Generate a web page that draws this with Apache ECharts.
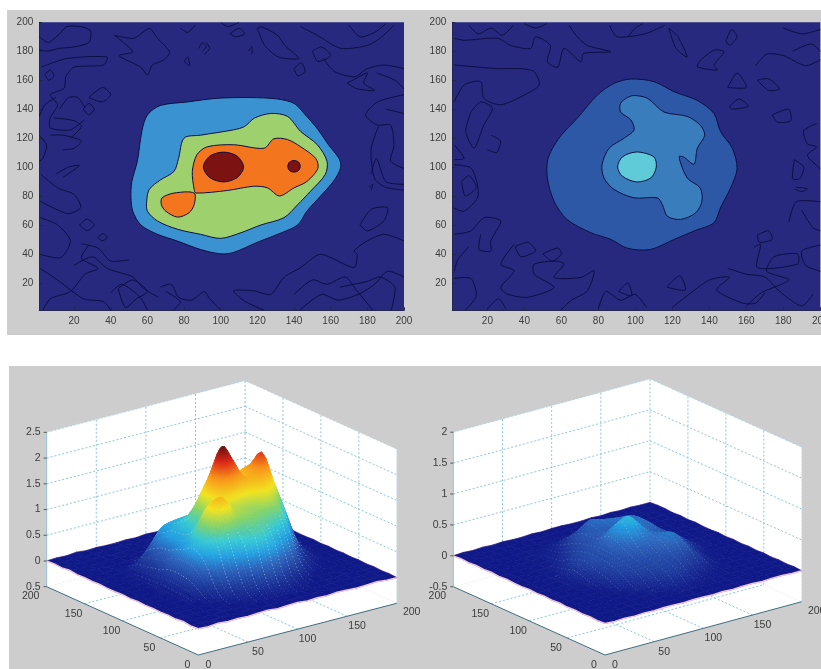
<!DOCTYPE html>
<html><head><meta charset="utf-8">
<style>html,body{margin:0;padding:0;background:#fff;overflow:hidden}#c{width:821px;height:669px;filter:blur(0.7px)}</style>
<script src="https://cdn.jsdelivr.net/npm/echarts@6/dist/echarts.min.js"></script>
</head><body><div id="c"></div>
<script>
// ---- contour plots: tick labels
const contourTicks = [20,40,60,80,100,120,140,160,180,200];
// ---- left contour levels [x,y]
const leftBlue = [[51,79],[51.5,90],[54.5,104],[57,125],[60,136],[67,142.5],[82,145],[98,147.5],[116,148],[131,147],[140,144],[145.5,137],[153,126],[159,115],[164.5,106],[165.5,100],[162,91],[154.5,80],[147,69.5],[142,60],[131,53.5],[120,48],[107,41],[100,40],[89,43],[76,49],[65.5,53.5],[56.4,60],[52,69.5]];
const leftGreen = [[59.6,76.4],[61,84.5],[67,91],[74.5,97],[77,106],[80,120],[89,122],[107,125.7],[113,128],[118.4,133.8],[127.3,137],[136.4,135],[143.6,124.6],[152.7,115.4],[158,104],[157,94.8],[149,83.3],[142,74],[134.5,65],[122,60],[111,54.6],[100,50.7],[89,53.5],[76.4,57],[65.5,62.7],[60,69.5]];
const leftOrangeMain = [[85.5,84.5],[84.5,97],[87,108.5],[92.7,114],[107,115.4],[123.6,113],[129,119.5],[136.4,119],[143.6,114],[151.8,106],[153,99],[147,90],[140,85.6],[132,80],[125.5,85.6],[118,86.7],[103.6,83.8],[86.4,82]];
const leftOrangeLobe = [[68,78.7],[74.5,82],[85.5,82],[85.5,74],[82.7,68.4],[76.4,65.4],[70,69.5],[67.6,74]];
const leftRedBig = [[101.5,110.3],[109,107.5],[112.5,100],[109,92.7],[101.5,89.7],[94,92.7],[90.5,100],[94,107.5]];
const leftRedSmall = [[140,104.5],[142.5,103.4],[143.4,100.5],[142.5,97.6],[140,96.5],[137.5,97.6],[136.6,100.5],[137.5,103.4]];
const leftNoise = [
 [[1,190],[6,186],[12,192],[16,197],[24,197],[29,194],[28,186],[20,183],[12,182],[5,180],[1,181]],
 [[42,191],[52,179.6],[44.5,177],[56.4,169],[60,163.6],[62.7,170.5],[69,174],[72,179.6],[65.5,189],[61,195.7],[52.7,189],[42,191]],
 [[2,169],[16,175],[38,176],[36,170.5],[20,169],[15.5,162.5],[14.5,154.4],[7,150],[11,143],[7,134],[7,127],[18,125.7],[25.5,132.6]],
 [[120,195.7],[124,184],[131.6,176],[142.5,175],[135,184],[131,191],[122,197],[120,195.7]],
 [[143.6,197],[152.7,191],[165.5,182],[180,184],[187,189],[194.5,198]],
 [[156,175],[162,166],[173,162.4],[180,168],[189,170.5],[200,168]],
 [[169,158],[172,160],[180,165],[178,158],[184,153],[174.5,154],[169,158]],
 [[200,150],[185.5,145],[179,136],[185.5,129],[192.7,129],[194.5,115],[192.7,104],[200,99]],
 [[176,60],[182,70.7],[191,72],[189,62.7],[180,55.8],[176,60]],
 [[200,49],[189,53.5],[180,49],[172.7,42],[174.5,39.7],[172.7,30.5],[154.5,39.7],[143.6,30.5],[134.5,23.7],[127.3,12],[118,14.5],[107,14.5],[112.7,7.6],[123.6,1]],
 [[143,1],[155,12],[164,8],[175,12],[184,19],[191,28],[200,24]],
 [[1.8,95],[11,85.6],[20,81],[23.6,72],[16.4,67.8],[1.5,76.4]],
 [[1.5,65],[11,60],[18,49],[12.7,37.4],[1.5,39.7]],
 [[1.5,30],[12,21],[25,9],[36,7],[40,1]],
 [[28,46],[24,37],[33,30],[26,26],[18,14],[7,9],[3,1]],
 [[44,16],[52,22],[60,14],[54,9],[48,3],[44,16]],
 [[70,14],[78,7],[74,1]],
 [[28,148],[35.5,155],[40,150],[35.5,145],[28,148]],
 [[25,140],[28,144],[31,140],[28,136],[25,140]],
 [[10,148],[4,143],[1,135]],
 [[7,122],[14,122],[24,118],[20,113],[14,112]],
 [[1,122],[5,115],[3,106],[1,104]],
 [[10,95],[17,100],[23,101],[14,93]],
 [[23,60],[27,64],[31,60],[27,56],[23,60]],
 [[33,51.6],[36,54],[38,51],[35,49],[33,51.6]],
 [[105,192],[110,196],[113,192],[108,190],[105,192]],
 [[88,182],[90,186],[92,183],[90,180]],
 [[140,168],[144,172],[146,166],[142,163],[140,168]],
 [[186,128],[182,112],[184,92],[190,86],[200,84]],
 [[181,86],[183,88],[182,84]],
 [[4,164],[7,167],[9,163],[6,160],[4,164]],
 [[78,196],[82,193],[86,198]],
 [[92,186],[94,182],[91,178]],
 [[80,173],[82,176],[83,170],[80,173]],
 [[115,180],[117,183],[117,178]],
 [[12,140],[17,148],[22,148],[26,141]],
 [[9,134],[20,132],[24,128],[18,120]],
 [[24,47],[33,44],[40,35],[50,36]],
 [[20,32],[30,38],[38,30],[52,24],[58,16],[66,10]],
 [[67,17],[73,19],[77,10],[84,8],[91,14],[94,9],[100,1]],
 [[40,13],[46,19],[56,10],[60,1]],
 [[165,17],[180,21],[187,24],[195,17],[193,1]],
 [[140,12],[150,22],[158,19],[168,24],[174,15],[183,1]],
 [[182,95],[185,106],[190,90],[200,88]],
 [[190,140],[200,137]],
 [[185,165],[195,160],[200,154]],
 [[170,198],[176,190],[184,193],[190,199]],
 [[150,180],[155,183],[160,177],[153,173],[150,180]],
 [[100,200],[104,197],[110,200]]
];
// ---- right contour levels [x,y]
const rightOuter = [[97.5,160.8],[110,159],[121,152],[133.5,146],[142.5,137],[146,124.6],[152.4,113],[155,99],[151.5,85.6],[146,71.8],[142.5,61.5],[131.7,55.8],[121,50],[108,43],[95.7,43.9],[86.7,50],[75.9,54.6],[63,63.8],[56,76.4],[52.4,92.5],[52.8,106],[58.7,120],[68.6,133.8],[79.5,149.8],[88.5,157.8]];
const rightMid = [[99.3,149.4],[106.5,147.5],[115.5,138],[128,135],[135,129],[137.5,122],[133.5,113],[131.7,102],[126,107],[123.6,107],[128,92.5],[135,85.6],[136,76.4],[132.6,68.4],[124.5,63.8],[117.3,66],[114.6,74],[111.9,78.7],[99.3,78.7],[88.5,84.5],[83,92.5],[82,101.7],[85.8,113],[94,120],[99.3,125.7],[97.5,132.6],[92,138],[92,144],[95.7,148]];
const rightCyan = [[100.7,110.4],[110,107],[111.3,100],[108.4,92.5],[100.7,89.7],[93,93.6],[90.4,100],[93,107]];
const rightNoise = [
 [[2,189],[7.4,187.6],[25.4,189],[32.6,184],[43.4,182],[46,190],[54,184],[52.4,172.7],[58,169],[61.4,182],[70.5,172.7],[72,178.5],[86.7,179.6],[74,184],[68.6,190],[64,198]],
 [[2,170.5],[25.4,168],[38,168],[45.2,166],[48,156.7],[40,149.8],[27.2,143],[18,147.5],[16.4,159],[7.4,156.7],[2,145]],
 [[11,138],[8.3,124.6],[12.8,113],[18,129],[22.7,140.6],[16.4,145],[11,138]],
 [[2,115.4],[7.4,106],[2,105]],
 [[2,101.6],[11,99.4],[14.6,88],[14.6,78.7],[7.4,69.5],[1.5,71.8]],
 [[2,53.5],[11,55.8],[18.2,65],[27.2,62.7],[21.8,49],[21.8,42],[15.5,43],[16.4,53.5]],
 [[34.4,46.6],[27.2,32.8],[34.4,28.3],[27.2,16.8],[30.8,12.2],[41.6,10],[56,16.8],[45.2,26],[45.2,32.8],[57.8,35],[61.4,32.8],[56,23.7],[70.5,23.7],[77.7,28.3],[74,14.5],[65,7.6],[59.6,1]],
 [[2,23],[11,23],[14,11],[8,1]],
 [[20,2],[26,9],[30,2]],
 [[164,44.3],[167.7,46.6],[166,30.5],[187.7,33],[187.7,40],[175,38],[171,28],[183,22],[168,13],[160,4]],
 [[200,46],[190,42],[192,32],[200,28]],
 [[135.3,174],[142.5,180.8],[148,179.6],[142.5,170.5],[144.3,167],[133.5,169.3],[135.3,174]],
 [[118,196],[122,182],[128,176],[123,190],[118,196]],
 [[86,198],[90,190],[105,192],[116,198]],
 [[149,187],[152,195],[155,190],[151,184],[149,187]],
 [[165,170],[171,178],[180,177],[192,170],[200,174]],
 [[150,155],[155,165],[160,155],[150,155]],
 [[151,142],[156,147],[161,142],[152,140],[151,142]],
 [[166,160],[172,161],[178,154],[172,153],[166,160]],
 [[174,136],[183,140],[184,132],[177,131],[174,136]],
 [[198,130],[191,125],[193,116],[198,114],[193,108],[200,99]],
 [[186,105],[191,100],[189,92],[185,92],[186,105]],
 [[186,85],[190,83],[193,85],[187,86]],
 [[183,62],[187,76],[200,76]],
 [[190,70],[196,58],[200,56]],
 [[166,53],[172,56],[174,50],[167,48],[166,53]],
 [[117,17],[124,25],[127,15],[117,17]],
 [[120,3],[130,13],[140,22],[151,24],[144,15],[158,6],[165,6],[170,13]],
 [[91,14],[96,20],[98,11],[91,14]],
 [[22,122],[27,118],[25,110],[20,112]],
 [[10,198],[15,192],[22,196],[28,191],[34,198]],
 [[40,199],[46,196],[52,199]],
 [[96,190],[100,196],[104,199]],
 [[50,40],[55,35],[60,40],[58,44],[50,40]],
 [[80,2],[84,14],[92,8],[100,12],[106,3]],
 [[35,45],[42,48],[46,42],[38,38],[35,45]],
 [[180,196],[190,192],[200,195]],
 [[150,30],[160,26],[170,24],[178,14],[190,4],[196,12]],
 [[185,180],[195,185],[200,180]],
 [[10,45],[4,36],[2,28]],
 [[6,90],[10,94],[14,86],[8,80],[6,90]]
];
// ---- surface heights: rows y=200..0 (step 10), columns x=0..200 (step 10)
const leftZ = [
[0,.01,0,.02,0,.01,0,0,.01,0,.02,.01,0,0,.01,0,.01,0,.02,0,0],
[.01,0,.02,0,.01,0,.01,.02,0,.01,0,.01,.02,0,.01,.02,0,.01,0,.01,.02],
[0,.02,0,.01,.02,0,.01,0,.01,.02,0,0,.01,.02,0,.01,.02,0,.01,0,.01],
[.02,0,.01,0,.01,.02,0,.01,.02,0,.01,.01,0,.01,.02,0,.01,.02,0,.02,0],
[0,.01,.02,0,0,.01,.02,.02,.03,.03,.04,.04,.04,.03,.02,.01,0,.01,.01,0,.01],
[.01,0,0,.02,.01,.02,.15,.3,.35,.4,.45,.48,.47,.45,.3,.1,.03,.01,0,.01,0],
[0,0,.01,.02,.05,.2,.45,.7,.75,.78,.8,.82,.95,1.05,.75,.35,.1,.02,.01,0,.01],
[.01,0,0,.02,.06,.25,.6,.75,.85,.85,.9,.95,1.15,1.25,1.15,.7,.3,.05,.01,0,0],
[0,.01,.01,.03,.08,.3,.7,.85,1,1.1,1.12,1.2,1.35,1.55,1.45,1.1,.45,.1,.02,.01,0],
[0,0,.01,.03,.1,.35,.7,.9,1.2,1.6,1.85,1.7,1.5,1.75,1.7,1.45,.9,.3,.04,.01,.01],
[.01,0,.01,.04,.12,.45,.75,.95,1.25,1.8,2.38,2.1,1.7,1.8,2.08,1.55,1,.4,.06,.01,0],
[0,.01,0,.04,.13,.5,.85,1.15,1.3,1.7,1.9,1.75,1.7,1.75,1.7,1.2,.7,.2,.04,0,.01],
[.01,0,.01,.03,.12,.5,1.05,1.5,1.55,1.45,1.4,1.35,1.4,1.5,1.25,.85,.35,.1,.02,.01,0],
[0,.01,0,.02,.1,.45,1,1.55,1.65,1.35,1.3,1.25,1.2,1.15,1,.45,.15,.04,.01,0,.01],
[.01,0,.01,.02,.07,.3,.75,1.05,1.1,1.1,1.12,1.1,1,.85,.55,.2,.06,.02,0,.01,0],
[0,.01,0,.01,.03,.1,.35,.55,.75,.95,1.02,.9,.65,.45,.2,.05,.02,.01,.01,0,.01],
[.01,0,.01,0,.01,.03,.1,.2,.3,.42,.5,.4,.2,.1,.04,.02,.01,0,.01,.01,0],
[0,.02,0,.01,0,.01,.03,.05,.08,.1,.12,.1,.06,.03,.01,.01,0,.02,0,0,.01],
[.02,0,.01,0,.02,0,.01,.01,.02,.02,.03,.02,.01,.01,0,.02,.01,0,.01,.02,0],
[0,.01,0,.02,0,.01,.02,0,.01,.02,0,.01,0,.02,.01,0,.01,.02,0,.01,.01],
[.01,0,.02,0,.01,0,.01,.02,0,.01,.02,0,.01,0,.02,.01,0,.01,.02,0,0]
];
const rightZ = [
[0,.01,0,.01,0,.01,0,0,.01,0,.01,.01,0,0,.01,0,.01,0,.01,0,0],
[.01,0,.01,0,.01,0,.01,.01,0,.01,0,.01,.01,0,.01,.01,0,.01,0,.01,.01],
[0,.01,0,.01,.01,0,.01,0,.01,.01,0,0,.01,.01,0,.01,.01,0,.01,0,.01],
[.01,0,.01,0,.01,.01,.01,.02,.03,.05,.08,.08,.05,.02,.01,.01,.01,.01,0,.01,0],
[0,.01,.01,0,.01,.02,.03,.05,.1,.18,.21,.2,.12,.08,.03,.01,0,.01,.01,0,.01],
[.01,0,0,.01,.01,.03,.05,.08,.2,.3,.42,.33,.25,.18,.1,.03,.01,.01,0,.01,0],
[0,0,.01,.01,.02,.03,.07,.15,.27,.37,.45,.45,.42,.38,.25,.1,.03,.01,.01,0,.01],
[.01,0,0,.01,.02,.04,.12,.22,.3,.36,.4,.45,.48,.47,.33,.14,.04,.01,.01,0,0],
[0,.01,.01,.01,.03,.08,.2,.26,.32,.38,.43,.47,.48,.46,.36,.17,.05,.02,.01,.01,0],
[0,0,.01,.01,.04,.14,.24,.3,.36,.53,.62,.58,.47,.43,.33,.22,.08,.02,.01,.01,.01],
[.01,0,.01,.02,.06,.2,.27,.31,.38,.58,.75,.62,.45,.38,.32,.24,.12,.03,.01,.01,0],
[0,.01,0,.02,.05,.16,.26,.3,.36,.46,.57,.5,.45,.42,.3,.22,.1,.02,.01,0,.01],
[.01,0,.01,.01,.03,.1,.22,.29,.32,.37,.41,.43,.47,.48,.33,.15,.05,.01,.01,.01,0],
[0,.01,0,.01,.02,.06,.2,.25,.28,.3,.32,.36,.43,.42,.25,.1,.03,.01,.01,0,.01],
[.01,0,.01,.01,.01,.03,.12,.2,.24,.26,.28,.28,.3,.26,.2,.06,.02,.01,0,.01,0],
[0,.01,0,.01,.01,.01,.04,.12,.18,.22,.24,.24,.2,.14,.07,.03,.01,.01,.01,0,.01],
[.01,0,.01,0,.01,.01,.02,.04,.08,.14,.19,.15,.08,.05,.03,.01,.01,0,.01,.01,0],
[0,.01,0,.01,0,.01,.01,.02,.03,.05,.06,.05,.03,.02,.01,.01,0,.01,0,0,.01],
[.01,0,.01,0,.01,0,.01,.01,.01,.01,.02,.01,.01,.01,0,.01,.01,0,.01,.01,0],
[0,.01,0,.01,0,.01,.01,0,.01,.01,0,.01,0,.01,.01,0,.01,.01,0,.01,.01],
[.01,0,.01,0,.01,0,.01,.01,0,.01,.01,0,.01,0,.01,.01,0,.01,.01,0,0]
];
const planTicks = [0,50,100,150,200];
const leftZTicks = [-0.5,0,0.5,1,1.5,2,2.5];
const leftZLabels = ['0.5','0','0.5','1','1.5','2','2.5'];
const rightZTicks = [-0.5,0,0.5,1,1.5,2];
const rightZLabels = ['-0.5','0','0.5','1','1.5','2'];
// colour ramp of the surfaces (position along the height range, colour)
const rampPos = [0,.1,.2,.3,.4,.5,.62,.75,.87,1];
const rampCol = ['#0e1585','#1c3a9c','#2a62ba','#23a0e2','#38cbd4','#82d56e','#f4e31f','#f8951a','#dc2618','#4a0c0c'];

// ---- view geometry of the two 3-D boxes (screen px)
const leftView = {F:[198.3,655],L:[46.7,586.7],R:[396.7,603.3],zmin:-.5,unit:51.45,zlo:-.02,zhi:2.45,zTicks:leftZTicks,zLabels:leftZLabels,Z:leftZ,zmax:2.5,streak:.45};
const rightView = {F:[605,655],L:[453.3,586.7],R:[801.7,601.7],zmin:-.5,unit:61.8,zlo:-.02,zhi:2.15,zTicks:rightZTicks,zLabels:rightZLabels,Z:rightZ,zmax:2,streak:.3};

const hex=h=>[1,3,5].map(i=>parseInt(h.substr(i,2),16));
const rampRgb=rampCol.map(hex);
function ramp(t){t=Math.max(0,Math.min(1,t));let k=0;while(k<rampPos.length-2&&t>rampPos[k+1])k++;
 const f=(t-rampPos[k])/(rampPos[k+1]-rampPos[k]);const a=rampRgb[k],b=rampRgb[k+1];
 return `rgb(${a.map((v,i)=>Math.round(v+(b[i]-v)*f)).join(',')})`;}
function proj(v,x,y,z){
 return [v.F[0]+x/200*(v.R[0]-v.F[0])+y/200*(v.L[0]-v.F[0]),
         v.F[1]+x/200*(v.R[1]-v.F[1])+y/200*(v.L[1]-v.F[1])-(z-v.zmin)*v.unit];}
const lineC='#0d0f45';
function contourSeries(gi,layers){
 return {type:'custom',coordinateSystem:'cartesian2d',xAxisIndex:gi,yAxisIndex:gi,silent:true,animation:false,clip:true,
  data:layers.map((l,i)=>[i]),
  renderItem(p,api){const l=layers[api.value(0)];
   const pts=l.pts.map(q=>api.coord(q));
   if(l.fill) return {type:'polygon',shape:{points:pts,smooth:.3},style:{fill:l.fill,stroke:lineC,lineWidth:1}};
   return {type:'polyline',shape:{points:pts,smooth:.25},style:{fill:null,stroke:lineC,lineWidth:1}};
  }};
}
const leftLayers=[...leftNoise.map(p=>({pts:p})),
 {pts:leftBlue,fill:'#3a93d0'},{pts:leftGreen,fill:'#9fd06e'},{pts:leftOrangeMain,fill:'#f3761f'},{pts:leftOrangeLobe,fill:'#f3761f'},{pts:leftRedBig,fill:'#7c1212'},{pts:leftRedSmall,fill:'#7c1212'}];
const rightLayers=[...rightNoise.map(p=>({pts:p})),
 {pts:rightOuter,fill:'#2c58a6'},{pts:rightMid,fill:'#3a7dbd'},{pts:rightCyan,fill:'#5fcbd9'}];

function boxItems(v){
 const items=[];
 const poly=(pts,fill)=>items.push({k:'p',pts,fill});
 const ln=(a,b,c,d,w)=>items.push({k:'l',a,b,c,d,w});
 const zt=v.zmax,z0=v.zmin;
 poly([proj(v,0,200,z0),proj(v,200,200,z0),proj(v,200,200,zt),proj(v,0,200,zt)],'#fff');
 poly([proj(v,200,200,z0),proj(v,200,0,z0),proj(v,200,0,zt),proj(v,200,200,zt)],'#fff');
 poly([proj(v,0,0,z0),proj(v,200,0,z0),proj(v,200,200,z0),proj(v,0,200,z0)],'#fff');
 const g='#8cc6e0';
 planTicks.slice(1,4).forEach(t=>{
  ln(proj(v,t,200,z0),proj(v,t,200,zt),g,[2,2],1);
  ln(proj(v,200,t,z0),proj(v,200,t,zt),g,[2,2],1);
  ln(proj(v,t,0,z0),proj(v,t,200,z0),g,[2,2],1);
  ln(proj(v,0,t,z0),proj(v,200,t,z0),g,[2,2],1);
 });
 v.zTicks.slice(1,-1).forEach(z=>{
  ln(proj(v,0,200,z),proj(v,200,200,z),g,[2,2],1);
  ln(proj(v,200,200,z),proj(v,200,0,z),g,[2,2],1);
 });
 ln(proj(v,0,200,zt),proj(v,200,200,zt),'#b5d8e8',[2,2],1);
 ln(proj(v,200,200,zt),proj(v,200,0,zt),'#b5d8e8',[2,2],1);
 ln(proj(v,200,200,z0),proj(v,200,200,zt),g,[2,2],1);
 ln(proj(v,200,0,z0),proj(v,200,0,zt),'#cfe5ef',[2,2],1);
 return items;
}
// smooth height read between table vertices (as a surface shader would)
function hAt(v,xi,yi){
 const n=v.Z.length-1;
 const val=(i,j)=>v.Z[n-Math.max(0,Math.min(n,j))][Math.max(0,Math.min(20,i))];
 const cr=(a,b,c,d,t)=>.5*(2*b+(c-a)*t+(2*a-5*b+4*c-d)*t*t+(3*b-3*c+d-a)*t*t*t);
 const i=Math.min(19,Math.floor(xi)),j=Math.min(19,Math.floor(yi)),u=xi-i,w=yi-j;
 const row=jj=>cr(val(i-1,jj),val(i,jj),val(i+1,jj),val(i+2,jj),u);
 return cr(row(j-1),row(j),row(j+1),row(j+2),w);
}
function surfQuads(v){
 const out=[],n=v.Z.length-1,s=10;
 const zAt=(i,j)=>v.Z[n-j][i];
 const edge=[];
 for(let i=0;i<=20;i++)edge.push(proj(v,i*s,200,zAt(i,20)));
 out.push({k:'e',pts:edge});
 const edge2=[];
 for(let j=20;j>=0;j--)edge2.push(proj(v,200,j*s,zAt(20,j)));
 out.push({k:'e',pts:edge2});
 for(let i=19;i>=0;i--)for(let j=19;j>=0;j--)out.push({k:'q',i,j});
 const e3=[],e4=[];
 for(let j=20;j>=0;j--)e3.push(proj(v,0,j*s,zAt(0,j)));
 for(let i=0;i<=20;i++)e4.push(proj(v,i*s,0,zAt(i,0)));
 out.push({k:'e',pts:e3});out.push({k:'e',pts:e4});
 return out;
}
function surfaceSeries(v,gi){
 const items=surfQuads(v),s=10,n0=v.Z.length-1;
 const col=a=>ramp((a-v.zlo)/(v.zhi-v.zlo));
 return {type:'custom',coordinateSystem:'cartesian2d',xAxisIndex:gi,yAxisIndex:gi,silent:true,animation:false,clip:false,
  data:items.map((o,i)=>[i]),
  renderItem(p,api){const o=items[api.value(0)];
   if(o.k==='e')return {type:'polyline',shape:{points:o.pts.map(q=>api.coord(q))},style:{fill:null,stroke:'#f6c3e0',lineWidth:1.4}};
   const {i,j}=o;
   const corner=[v.Z[n0-j][i],v.Z[n0-j][i+1],v.Z[n0-j-1][i+1],v.Z[n0-j-1][i]];
   const slope=Math.max(...corner)-Math.min(...corner);
   const nb=slope>.03?4:1;
   const ch=[];
   for(let a=nb-1;a>=0;a--)for(let b=nb-1;b>=0;b--){
    const xs=[i+a/nb,i+(a+1)/nb,i+(a+1)/nb,i+a/nb],ys=[j+b/nb,j+b/nb,j+(b+1)/nb,j+(b+1)/nb];
    const z=xs.map((x,k)=>hAt(v,x,ys[k]));
    const P=xs.map((x,k)=>api.coord(proj(v,x*s,ys[k]*s,z[k])));
    let lo=0,hi=0;z.forEach((q,k)=>{if(q<z[lo])lo=k;if(q>z[hi])hi=k;});
    let fill;
    if(z[hi]-z[lo]<.02)fill=col((z[hi]+z[lo])/2);
    else{const st=[];for(let k=0;k<=4;k++)st.push({offset:k/4,color:col(z[lo]+(z[hi]-z[lo])*k/4)});
     fill=new echarts.graphic.LinearGradient(P[lo][0],P[lo][1],P[hi][0],P[hi][1],st,true);}
    ch.push({type:'polygon',shape:{points:P},style:{fill,stroke:fill,lineWidth:.7}});
   }
   const zm=(corner[0]+corner[1]+corner[2]+corner[3])/4;
   if(slope>.04&&zm<1.05){
    const op=Math.min(v.streak,.12+slope*.8);
    [0,.5].forEach(f=>{
     const pts=[];for(let m=0;m<=3;m++){const yy=j+m/3,xx=i+f;pts.push(api.coord(proj(v,xx*s,yy*s,hAt(v,xx,yy))));}
     ch.push({type:'polyline',shape:{points:pts},style:{fill:null,stroke:'#fff',lineWidth:.9,lineDash:[1.2,2.4],opacity:op}});
    });
   }
   return {type:'group',children:ch};
  }};
}
function boxSeries(v,gi){
 const items=boxItems(v);
 return {type:'custom',coordinateSystem:'cartesian2d',xAxisIndex:gi,yAxisIndex:gi,silent:true,animation:false,clip:false,
  data:items.map((o,i)=>[i]),
  renderItem(p,api){const o=items[api.value(0)];
   if(o.k==='p')return {type:'polygon',shape:{points:o.pts.map(q=>api.coord(q))},style:{fill:o.fill}};
   const A=api.coord(o.a),B=api.coord(o.b);
   return {type:'line',shape:{x1:A[0],y1:A[1],x2:B[0],y2:B[1]},style:{stroke:o.c,lineWidth:o.w,lineDash:o.d}};
  }};
}
function axesSeries(v,gi){
 const items=[],ax='#3f6f80',z0=v.zmin;
 const seg=(a,b,c,w)=>items.push({k:'l',a,b,c,w});
 const txt=(pos,s,dx,dy,al)=>items.push({k:'t',pos,s,dx,dy,al});
 seg(proj(v,0,200,z0),proj(v,0,0,z0),ax,1);
 seg(proj(v,0,0,z0),proj(v,200,0,z0),ax,1);
 seg(proj(v,0,200,z0),proj(v,0,200,v.zmax),'#8fc1d8',1);
 v.zTicks.forEach((z,k)=>{
  const P=proj(v,0,200,z);seg(P,[P[0]-3,P[1]],'#555',1);
  txt(P,v.zLabels[k],-6,0,'right');
 });
 planTicks.forEach(t=>{
  txt(proj(v,0,t,z0),String(t),t===200?-16:-11,t===200?9:10,'center');
  txt(proj(v,t,0,z0),String(t),t===200?15:10,t===200?9:10,'center');
 });
 return {type:'custom',coordinateSystem:'cartesian2d',xAxisIndex:gi,yAxisIndex:gi,silent:true,animation:false,clip:false,
  data:items.map((o,i)=>[i]),
  renderItem(p,api){const o=items[api.value(0)];
   if(o.k==='l'){const A=api.coord(o.a),B=api.coord(o.b);
    return {type:'line',shape:{x1:A[0],y1:A[1],x2:B[0],y2:B[1]},style:{stroke:o.c,lineWidth:o.w}};}
   const A=api.coord(o.pos);
   return {type:'text',x:A[0]+o.dx,y:A[1]+o.dy,style:{text:o.s,fill:'#3c3c3c',font:'10.5px "Liberation Sans"',textAlign:o.al,textVerticalAlign:'middle'}};
  }};
}
const valAxis=(idx)=>({gridIndex:idx,type:'value',min:1,max:200,splitLine:{show:false},
 axisLine:{onZero:false,lineStyle:{color:'#23264f',width:1}},
 axisTick:{inside:true,length:3,customValues:contourTicks,lineStyle:{color:'#23264f'}},
 axisLabel:{customValues:contourTicks,color:'#3c3c3c',fontSize:10,fontFamily:'Liberation Sans',margin:6,hideOverlap:false}});
const pxAxisX=(idx)=>({gridIndex:idx,type:'value',min:0,max:821,show:false});
const pxAxisY=(idx)=>({gridIndex:idx,type:'value',min:0,max:669,inverse:true,show:false});
const grids=[
 {left:39.3,top:22.3,width:364.7,height:288,show:true,backgroundColor:'#26297e',borderWidth:0,outerBoundsMode:'none'},
 {left:452.3,top:22.3,width:368,height:288,show:true,backgroundColor:'#26297e',borderWidth:0,outerBoundsMode:'none'},
 {left:0,top:0,width:821,height:669,outerBoundsMode:'none'}
];
const chart=echarts.init(document.getElementById('c'),null,{renderer:'canvas',width:821,height:669});
chart.setOption({
 animation:false,backgroundColor:'#fff',
 graphic:[
  {type:'rect',z:-10,silent:true,shape:{x:7,y:10,width:814,height:325},style:{fill:'#cdcdcd'}},
  {type:'rect',z:-10,silent:true,shape:{x:9,y:366,width:812,height:303},style:{fill:'#cdcdcd'}}
 ],
 grid:grids,
 xAxis:[valAxis(0),valAxis(1),pxAxisX(2)],
 yAxis:[valAxis(0),valAxis(1),pxAxisY(2)],
 series:[contourSeries(0,leftLayers),contourSeries(1,rightLayers),
  boxSeries(leftView,2),surfaceSeries(leftView,2),axesSeries(leftView,2),
  boxSeries(rightView,2),surfaceSeries(rightView,2),axesSeries(rightView,2)]
});
</script></body></html>
